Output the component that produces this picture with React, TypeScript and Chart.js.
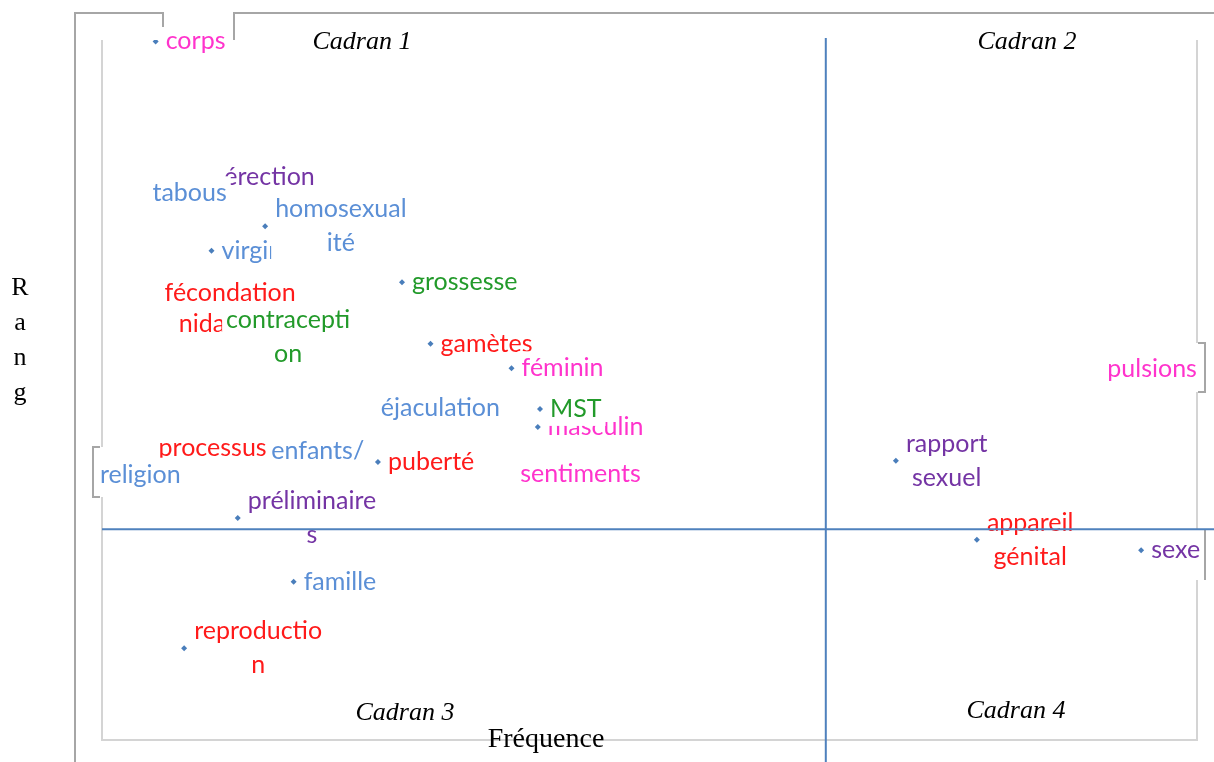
import React, { useEffect, useRef } from "react";
import { Chart, registerables } from "chart.js";

Chart.register(...registerables);

// ---- Data ----
const words: string[] = [
  "érection", "tabous", "corps", "virginité", "homosexualité", "fécondation",
  "nidation", "contraception", "grossesse", "gamètes", "féminin", "éjaculation",
  "masculin", "MST", "processus", "enfants/", "religion", "puberté", "sentiments",
  "préliminaires", "famille", "reproduction", "rapport sexuel", "appareil génital",
  "sexe", "pulsions",
];
// label text as displayed (wrapped)
const labelTexts: string[] = [
  "érection", "tabous", "corps", "virginité", "homosexual\nité", "fécondation",
  "nidation", "contracepti\non", "grossesse", "gamètes", "féminin", "éjaculation",
  "masculin", "MST", "processus", "enfants/", "religion", "puberté", "sentiments",
  "préliminaire\ns", "famille", "reproductio\nn", "rapport\nsexuel", "appareil\ngénital",
  "sexe", "pulsions",
];
const frequence: number[] = [
  15.3, 8.0, 4.9, 10.0, 14.9, 11.7,
  11.1, 17.0, 27.4, 30.0, 37.4, 30.9,
  39.8, 40.0, 10.1, 19.7, 3.5, 25.2, 43.7,
  12.4, 17.5, 7.5, 72.5, 79.9,
  94.9, 95.9,
];
const rang: number[] = [
  80.4, 78.1, 99.8, 69.9, 73.4, 63.9,
  59.4, 57.6, 65.4, 56.6, 53.1, 47.4,
  44.7, 47.3, 41.7, 41.3, 37.9, 39.7, 38.0,
  31.7, 22.6, 13.1, 39.9, 28.6,
  27.1, 53.0,
];
// quadrant thresholds
const seuilFrequence = 66.1;
const seuilRang = 30.1;
const quadrantNames: string[] = ["Cadran 1", "Cadran 2", "Cadran 3", "Cadran 4"];

// ---- Styles ----
const PINK = "#FF33CC";
const BLUE = "#5B8FD6";
const RED = "#FF1A1A";
const GREEN = "#229A2A";
const PURPLE = "#7434A4";
const labelColors: string[] = [
  PURPLE, BLUE, PINK, BLUE, BLUE, RED,
  RED, GREEN, GREEN, RED, PINK, BLUE,
  PINK, GREEN, RED, BLUE, BLUE, RED, PINK,
  PURPLE, BLUE, RED, PURPLE, RED,
  PURPLE, PINK,
];
// 'r' = label to the right of point, 'c' = label centred on point
const labelAnchors: string[] = [
  "c", "c", "r", "r", "r", "c",
  "c", "c", "r", "r", "r", "c",
  "r", "r", "c", "c", "c", "r", "c",
  "r", "r", "r", "r", "r",
  "r", "c",
];

const W = 1214;
const H = 762;

const decorPlugin = {
  id: "decor",
  afterDatasetsDraw(chart: any) {
    const ctx: CanvasRenderingContext2D = chart.ctx;
    const area = chart.chartArea;
    const xs = chart.scales.x;
    const ys = chart.scales.y;
    const meta = chart.getDatasetMeta(0);
    ctx.save();

    // labels
    ctx.font = "25px Lato";
    ctx.textBaseline = "middle";
    ctx.textAlign = "center";
    const lh = 34;
    meta.data.forEach((pt: any, i: number) => {
      const lines = labelTexts[i].split("\n");
      const w = Math.max(...lines.map((l) => ctx.measureText(l).width));
      const h = lines.length * lh;
      const cx = labelAnchors[i] === "c" ? pt.x : pt.x + 10 + w / 2;
      const top = pt.y - h / 2;
      ctx.fillStyle = "#ffffff";
      ctx.fillRect(cx - w / 2 - 4, top, w + 8, h);
      ctx.fillStyle = labelColors[i];
      lines.forEach((l, j) => ctx.fillText(l, cx, top + lh * (j + 0.5)));
    });

    // inner plot border
    ctx.strokeStyle = "#D4D4D4";
    ctx.lineWidth = 2;
    ctx.beginPath();
    ctx.moveTo(area.left, area.top);
    ctx.lineTo(area.left, 447);
    ctx.moveTo(area.left, 497);
    ctx.lineTo(area.left, area.bottom);
    ctx.lineTo(area.right, area.bottom);
    ctx.lineTo(area.right, 580);
    ctx.moveTo(area.right, 530);
    ctx.lineTo(area.right, 392);
    ctx.moveTo(area.right, 343);
    ctx.lineTo(area.right, area.top);
    ctx.stroke();

    // outer frame + label box remnants
    ctx.strokeStyle = "#A6A6A6";
    ctx.beginPath();
    ctx.moveTo(75, H);
    ctx.lineTo(75, 13);
    ctx.lineTo(163, 13);
    ctx.lineTo(163, 27);
    ctx.moveTo(234, 40);
    ctx.lineTo(234, 13);
    ctx.lineTo(W, 13);
    // religion bracket
    ctx.moveTo(100, 447);
    ctx.lineTo(93, 447);
    ctx.lineTo(93, 497);
    ctx.lineTo(100, 497);
    // pulsions bracket
    ctx.moveTo(1198, 343);
    ctx.lineTo(1205, 343);
    ctx.lineTo(1205, 392);
    ctx.lineTo(1198, 392);
    // sexe edge
    ctx.moveTo(1205, 530);
    ctx.lineTo(1205, 580);
    ctx.stroke();

    // quadrant lines
    const qx = xs.getPixelForValue(seuilFrequence);
    const qy = ys.getPixelForValue(seuilRang);
    ctx.strokeStyle = "#4F81BD";
    ctx.lineWidth = 2;
    ctx.beginPath();
    ctx.moveTo(qx, 38);
    ctx.lineTo(qx, H);
    ctx.moveTo(area.left, qy);
    ctx.lineTo(W, qy);
    ctx.stroke();

    // quadrant names
    ctx.fillStyle = "#000";
    ctx.font = "italic 26px 'Liberation Serif'";
    ctx.textAlign = "center";
    ctx.textBaseline = "middle";
    ctx.fillText(quadrantNames[0], 362, 42);
    ctx.fillText(quadrantNames[1], 1027, 42);
    ctx.fillText(quadrantNames[2], 405, 713);
    ctx.fillText(quadrantNames[3], 1016, 711);

    // axis titles
    ctx.font = "28px 'Liberation Serif'";
    ctx.fillText("Fréquence", 546, 740);
    ctx.font = "26px 'Liberation Serif'";
    const rangLetters = ["R", "a", "n", "g"];
    rangLetters.forEach((c, k) => ctx.fillText(c, 20, 288 + k * 35));

    ctx.restore();
  },
};

export default function App() {
  const ref = useRef<HTMLCanvasElement | null>(null);
  useEffect(() => {
    document.body.style.margin = "0";
    const canvas = ref.current!;
    const chart = new Chart(canvas, {
      type: "scatter",
      data: {
        datasets: [
          {
            label: "Mots",
            data: frequence.map((f, i) => ({ x: f, y: rang[i] })),
            pointStyle: "rectRot",
            pointRadius: 3,
            backgroundColor: "#4A7EBB",
            borderColor: "#4A7EBB",
            borderWidth: 0,
          },
        ],
      },
      options: {
        responsive: false,
        animation: false,
        devicePixelRatio: 1,
        layout: { padding: { left: 102, right: 17, top: 40, bottom: 22 } },
        plugins: { legend: { display: false }, tooltip: { enabled: false } },
        scales: {
          x: { type: "linear", min: 0, max: 100, display: false },
          y: { type: "linear", min: 0, max: 100, display: false },
        },
      },
      plugins: [decorPlugin],
    });
    return () => chart.destroy();
  }, []);
  return (
    <div style={{ position: "fixed", left: 0, top: 0, width: W, height: H, background: "#fff" }}>
      <canvas ref={ref} width={W} height={H} style={{ width: W, height: H, display: "block" }} />
    </div>
  );
}
